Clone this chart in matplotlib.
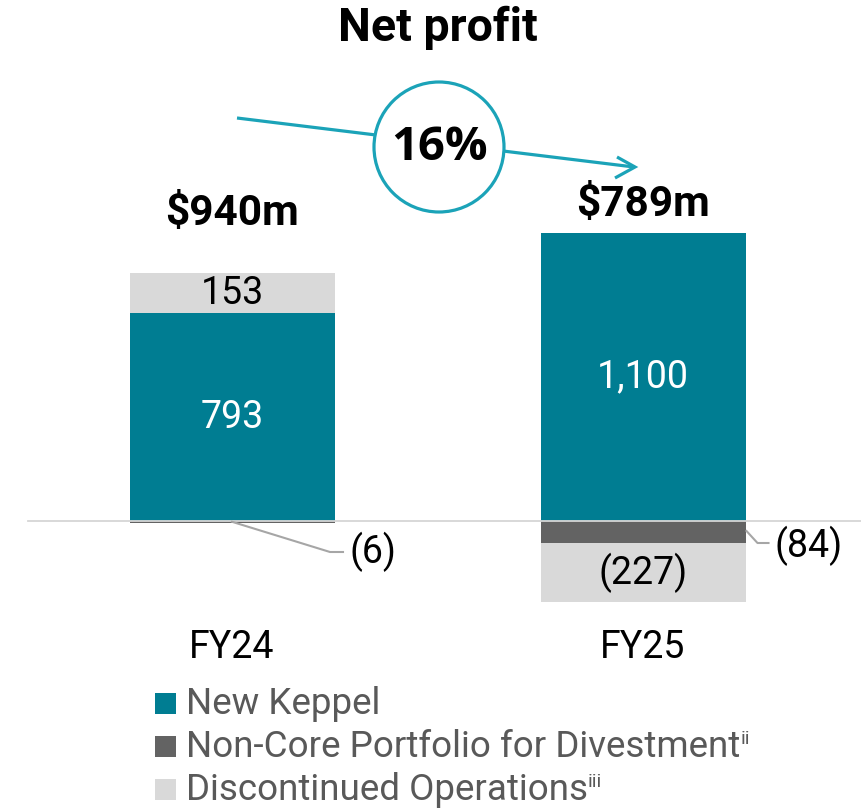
import matplotlib
matplotlib.use("Agg")
import matplotlib.pyplot as plt
from matplotlib.patches import Circle, Rectangle
from matplotlib.lines import Line2D
from matplotlib.transforms import Affine2D

# ---------------- data ----------------
categories = ["FY24", "FY25"]
new_keppel = [793, 1100]
non_core = [-6, -84]
discontinued = [153, -227]
totals = ["$940m", "$789m"]
change_label = "16%"
series_names = ["New Keppel", "Non-Core Portfolio for Divestment", "Discontinued Operations"]
series_sup = ["", "ii", "iii"]
title = "Net profit"

# ---------------- style ----------------
TEAL = "#007D92"
DARK = "#636363"
LIGHT = "#D9D9D9"
ACCENT = "#1BA3B8"
LEADER = "#A6A6A6"
plt.rcParams["font.family"] = ["Roboto", "DejaVu Sans"]

W, H = 861, 809
fig = plt.figure(figsize=(W / 100, H / 100), dpi=100)
ax = fig.add_axes([0, 0, 1, 1])
ax.set_axis_off()

# data mapping chosen so the layout matches the reference
x0_px, spacing_px, base_px, scale_px = 232, 411, 521, 0.262
ax.set_xlim(-x0_px / spacing_px, (W - x0_px) / spacing_px)
ax.set_ylim((base_px - H) / scale_px, base_px / scale_px)

# pixel transform (origin top-left) for decorations
tp = Affine2D().scale(1 / W, -1 / H).translate(0, 1) + fig.transFigure

xs = list(range(len(categories)))
bw = 205 / spacing_px

# bars: stack positives up, negatives down
for i in xs:
    pos, neg = 0.0, 0.0
    for vals, col in ((new_keppel, TEAL), (non_core, DARK), (discontinued, LIGHT)):
        v = vals[i]
        if v >= 0:
            ax.bar(i, v, bottom=pos, width=bw, color=col, linewidth=0, zorder=2)
            pos += v
        else:
            ax.bar(i, v, bottom=neg, width=bw, color=col, linewidth=0, zorder=2)
            neg += v

ax.axhline(0, xmin=28 / W, xmax=1, color="#D6D6D6", lw=1.3, zorder=3)

def fmt(v):
    s = f"{abs(v):,}"
    return f"({s})" if v < 0 else s

lbl_fs = 27
# FY24 labels
ax.text(0, new_keppel[0] / 2, fmt(new_keppel[0]), ha="center", va="center",
        fontsize=lbl_fs, color="white", zorder=4)
ax.text(0, new_keppel[0] + discontinued[0] / 2, fmt(discontinued[0]), ha="center",
        va="center", fontsize=lbl_fs, color="black", zorder=4)
# FY24 non-core leader
ax.plot([0, 0 + 98 / spacing_px, 0 + 111 / spacing_px],
        [non_core[0] / 2, -31 / scale_px, -31 / scale_px], color=LEADER, lw=1.5, zorder=3)
ax.text(0 + 118 / spacing_px, -31 / scale_px, fmt(non_core[0]), ha="left", va="center",
        fontsize=lbl_fs, color="black")

# FY25 labels
ax.text(1, new_keppel[1] / 2, fmt(new_keppel[1]), ha="center", va="center",
        fontsize=lbl_fs, color="white", zorder=4)
ax.text(1, non_core[1] + discontinued[1] / 2, fmt(discontinued[1]), ha="center",
        va="center", fontsize=lbl_fs, color="black", zorder=4)
ax.plot([1 + bw / 2 + 1 / spacing_px, 1 + bw / 2 + 12 / spacing_px, 1 + bw / 2 + 23 / spacing_px],
        [-10 / scale_px, -22 / scale_px, -22 / scale_px], color=LEADER, lw=1.5, zorder=3)
ax.text(1 + bw / 2 + 29 / spacing_px, -25 / scale_px, fmt(non_core[1]), ha="left",
        va="center", fontsize=lbl_fs, color="black")

# totals above bars
tot_y = [new_keppel[0] + discontinued[0] + 60 / scale_px, new_keppel[1] + 28 / scale_px]
for i in xs:
    ax.text(i, tot_y[i], totals[i], ha="center", va="center", fontsize=30.5,
            fontweight="bold", color="black")

# category labels
for i in xs:
    ax.text(i, -126 / scale_px, categories[i], ha="center", va="center",
            fontsize=27, color="black")

# title
fig.text(438, 28, title, transform=tp, ha="center", va="center", fontsize=33.5,
         fontweight="bold", color="black")

# change arrow with circle
fig.add_artist(Line2D([237, 376], [118, 135], transform=tp, color=ACCENT, lw=2.3,
                      solid_capstyle="butt"))
fig.add_artist(Line2D([503, 634], [151, 167], transform=tp, color=ACCENT, lw=2.3,
                      solid_capstyle="butt"))
fig.add_artist(Line2D([617, 635, 615], [157, 167, 178], transform=tp, color=ACCENT,
                      lw=2.3, solid_joinstyle="miter", solid_capstyle="butt"))
fig.add_artist(Circle((439, 147), 65, transform=tp, facecolor="white",
                      edgecolor=ACCENT, lw=2.3))
fig.text(440, 148, change_label, transform=tp, ha="center", va="center", fontsize=34,
         fontweight="bold", family=["Open Sans", "DejaVu Sans"], color="black")

# legend
leg_cols = [TEAL, DARK, LIGHT]
for k, (name, sup, col) in enumerate(zip(series_names, series_sup, leg_cols)):
    yc = 704 + 43 * k
    fig.add_artist(Rectangle((155, yc - 11), 21, 21, transform=tp, facecolor=col,
                             edgecolor="none"))
    t = fig.text(186, yc, name, transform=tp, ha="left", va="center", fontsize=26.5,
                 color="#595959")
    if sup:
        ax.annotate(sup, xy=(1, 1), xycoords=t, xytext=(0, -1),
                    textcoords="offset points", ha="left", va="top",
                    fontsize=14, color="#595959", annotation_clip=False)

fig.savefig("out.png", dpi=100)
